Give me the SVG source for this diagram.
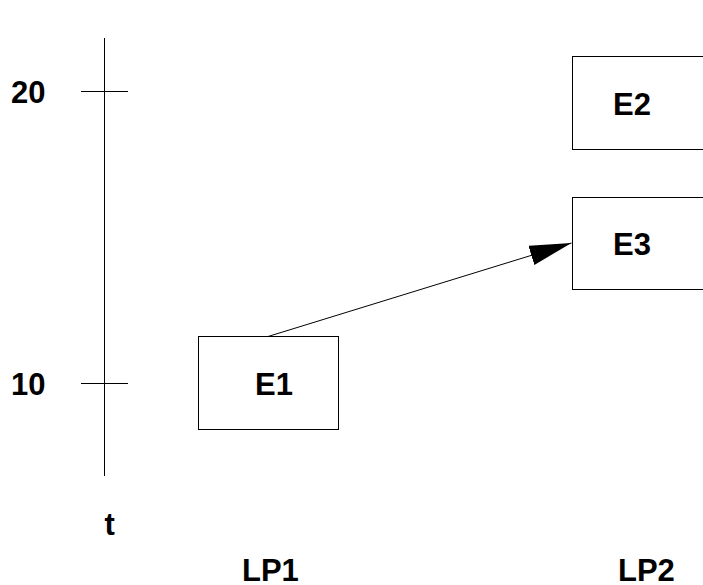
<svg xmlns="http://www.w3.org/2000/svg" width="703" height="585" viewBox="0 0 703 585">
<style>
.box{fill:#fff;stroke:#000;stroke-width:1}
.ln{stroke:#000;stroke-width:1;fill:none}
.lbl{font-family:"Liberation Sans",Arial,sans-serif;font-weight:bold;font-size:31px;fill:#000}
</style>
<defs>
<marker id="ah" markerUnits="userSpaceOnUse" markerWidth="44" markerHeight="22" refX="42" refY="10" orient="auto">
<path d="M0,0 L42,10 L0,20 Z" fill="#000"/>
</marker>
</defs>
<rect width="703" height="585" fill="#fff"/>
<g id="axis">
<line class="ln" x1="104.5" y1="38" x2="104.5" y2="476"/>
<line class="ln" x1="81" y1="91.5" x2="128" y2="91.5"/>
<line class="ln" x1="81" y1="383.5" x2="128" y2="383.5"/>
<text class="lbl" x="11" y="103">20</text>
<text class="lbl" x="11" y="395">10</text>
<text class="lbl" x="104.5" y="535">t</text>
</g>
<g id="E1">
<rect class="box" x="198.5" y="336.5" width="140" height="93"/>
<text class="lbl" x="255" y="394.5">E1</text>
</g>
<g id="E2">
<rect class="box" x="572.5" y="56.5" width="140" height="93"/>
<text class="lbl" x="613" y="115">E2</text>
</g>
<g id="E3">
<rect class="box" x="572.5" y="197.5" width="140" height="92"/>
<text class="lbl" x="613" y="255">E3</text>
</g>
<g id="LP1"><text class="lbl" x="242" y="581">LP1</text></g>
<g id="LP2"><text class="lbl" x="618" y="581">LP2</text></g>
<g id="connectors">
<line class="ln" x1="268" y1="336.5" x2="571.5" y2="243" marker-end="url(#ah)"/>
</g>
</svg>
